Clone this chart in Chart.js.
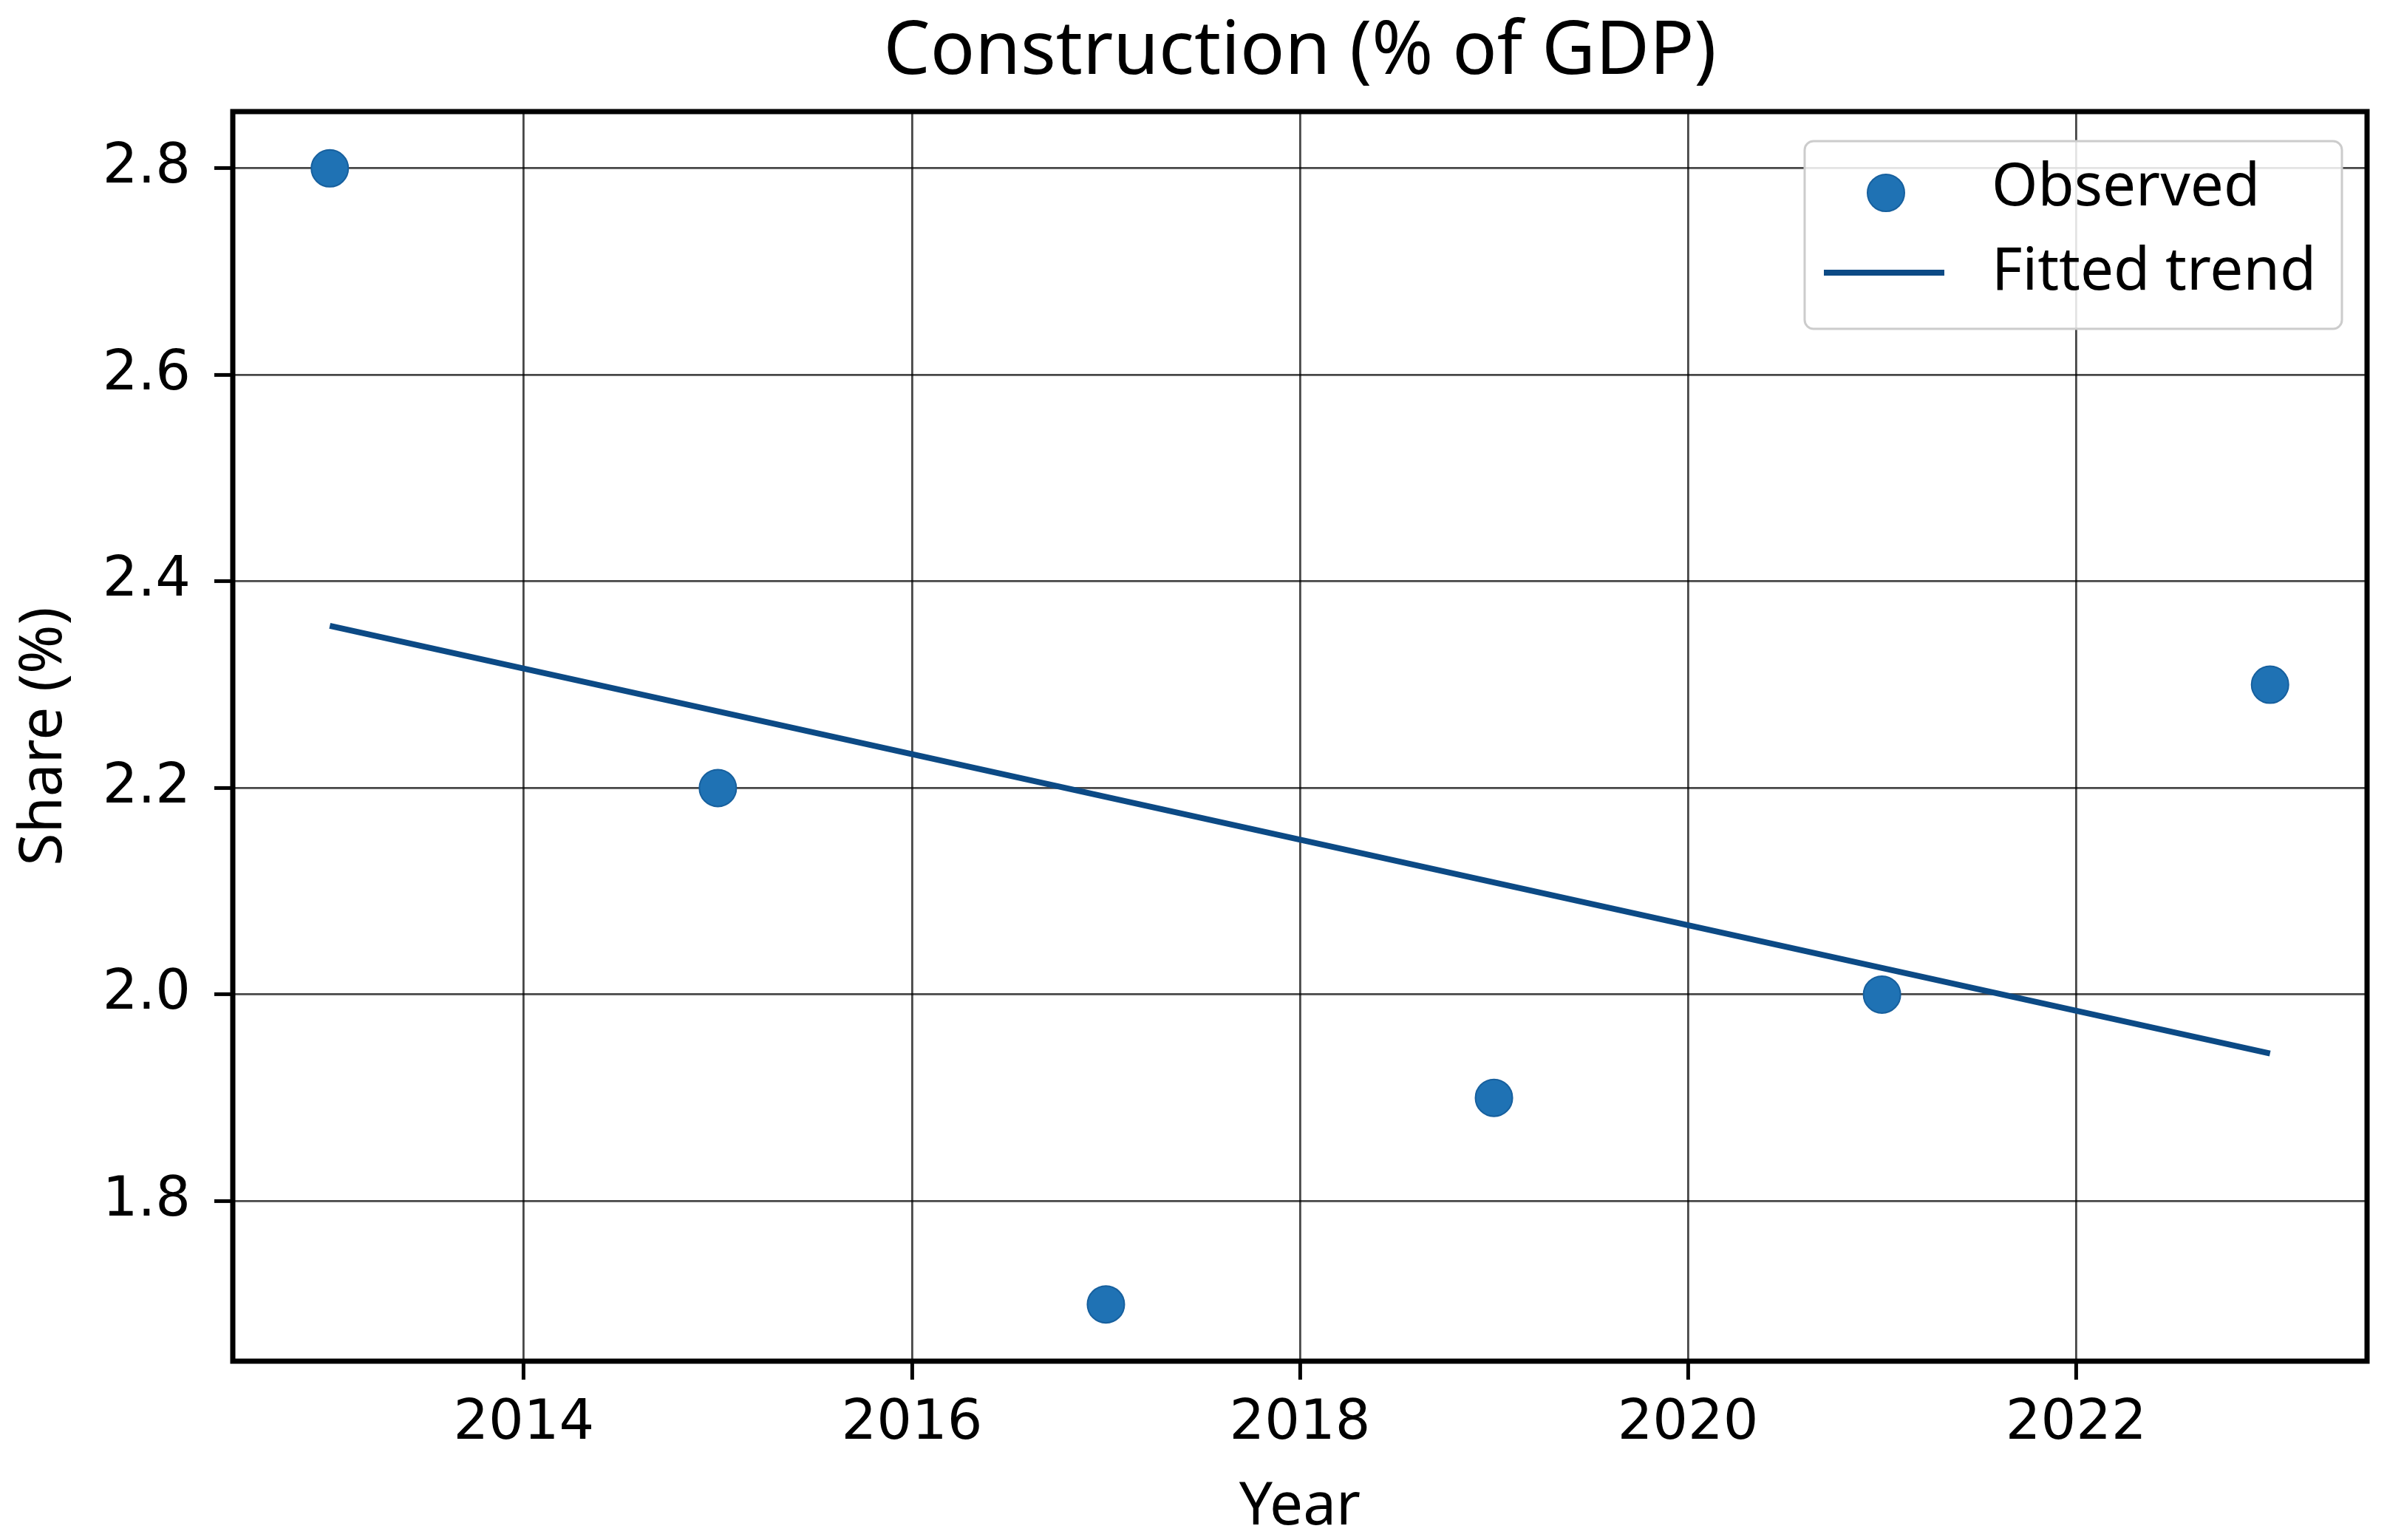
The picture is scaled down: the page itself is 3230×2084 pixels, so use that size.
<!DOCTYPE html>
<html>
<head>
<meta charset="utf-8">
<script src="https://cdn.jsdelivr.net/npm/chart.js@4.4.1/dist/chart.umd.min.js"></script>
<style>
  html, body { margin: 0; padding: 0; background: #fff; }
  canvas { display: block; }
</style>
</head>
<body>
<canvas id="myChart" width="3230" height="2084"></canvas>
<script>
// data
const years = [2013, 2015, 2017, 2019, 2021, 2023];
const observed = [2.8, 2.2, 1.7, 1.9, 2.0, 2.3];
const trendYears = [2013, 2023];
const trendValues = [2.357, 1.943];
const xTicks = [2014, 2016, 2018, 2020, 2022];
const yTicks = [1.8, 2.0, 2.2, 2.4, 2.6, 2.8];

const chartTitle = 'Construction (% of GDP)';
const pointColor = '#1f72b4';
const lineColor = '#0c4a85';

// title centred on the plot, frame round the plot, legend box top right
const framePlugin = {
    id: 'frame',
    afterDatasetsDraw(chart) {
        const { ctx, chartArea } = chart;
        ctx.save();
        ctx.strokeStyle = '#000';
        ctx.lineWidth = 7;
        ctx.strokeRect(chartArea.left, chartArea.top,
            chartArea.right - chartArea.left, chartArea.bottom - chartArea.top);
        ctx.restore();
    },
    afterDraw(chart) {
        const { ctx, chartArea } = chart;

        ctx.save();
        ctx.fillStyle = '#000';
        ctx.font = '100px "Noto Sans"';
        ctx.textAlign = 'center';
        ctx.textBaseline = 'middle';
        ctx.fillText(chartTitle, (chartArea.left + chartArea.right) / 2, 72);
        ctx.restore();

        const right = chartArea.right - 34;
        const top = chartArea.top + 40;
        const w = 727, h = 254;
        const left = right - w;
        ctx.save();
        ctx.fillStyle = 'rgba(255,255,255,0.85)';
        ctx.strokeStyle = '#cccccc';
        ctx.lineWidth = 3;
        ctx.beginPath();
        ctx.roundRect(left, top, w, h, 12);
        ctx.fill();
        ctx.stroke();

        const ds = chart.data.datasets;
        // marker row
        ctx.beginPath();
        ctx.arc(left + 110, top + 70, 25, 0, Math.PI * 2);
        ctx.fillStyle = ds[0].backgroundColor;
        ctx.fill();
        ctx.lineWidth = 2;
        ctx.strokeStyle = ds[0].borderColor;
        ctx.stroke();
        // line row
        ctx.beginPath();
        ctx.moveTo(left + 26, top + 178);
        ctx.lineTo(left + 189, top + 178);
        ctx.lineWidth = 8;
        ctx.strokeStyle = ds[1].borderColor;
        ctx.stroke();

        ctx.fillStyle = '#000';
        ctx.font = '80px "Noto Sans"';
        ctx.textBaseline = 'middle';
        ctx.textAlign = 'left';
        ctx.fillText(ds[0].label, left + 253, top + 64);
        ctx.fillText(ds[1].label, left + 253, top + 178);
        ctx.restore();
    }
};

const ctx = document.getElementById('myChart').getContext('2d');
const chart = new Chart(ctx, {
    type: 'scatter',
    data: {
        datasets: [
            {
                label: 'Observed',
                data: years.map((x, i) => ({ x: x, y: observed[i] })),
                backgroundColor: pointColor,
                borderColor: '#17609e',
                borderWidth: 2,
                pointRadius: 25,
                order: 1
            },
            {
                label: 'Fitted trend',
                data: trendYears.map((x, i) => ({ x: x, y: trendValues[i] })),
                showLine: true,
                borderColor: lineColor,
                backgroundColor: lineColor,
                borderWidth: 8,
                pointRadius: 0,
                order: 2
            }
        ]
    },
    options: {
        responsive: false,
        animation: false,
        devicePixelRatio: 1,
        layout: { padding: { left: 0, right: 18, top: 151, bottom: 0 } },
        plugins: {
            legend: { display: false },
            tooltip: { enabled: false },
            title: { display: false }
        },
        scales: {
            x: {
                type: 'linear',
                min: 2012.5,
                max: 2023.5,
                afterBuildTicks: axis => { axis.ticks = xTicks.map(v => ({ value: v })); },
                afterFit: axis => { axis.height = 242; },
                ticks: {
                    color: '#000',
                    font: { family: '"DejaVu Sans"', size: 75 },
                    padding: 16,
                    maxRotation: 0,
                    callback: v => String(v)
                },
                grid: {
                    color: 'rgba(0,0,0,0.72)',
                    lineWidth: 2.8,
                    tickColor: '#000',
                    tickLength: 25,
                    tickWidth: 5
                },
                border: { display: false },
                title: {
                    display: true,
                    text: 'Year',
                    color: '#000',
                    font: { family: '"Noto Sans"', size: 80, lineHeight: 1.1 },
                    padding: { top: 0, bottom: 0 }
                }
            },
            y: {
                type: 'linear',
                min: 1.645,
                max: 2.855,
                afterBuildTicks: axis => { axis.ticks = yTicks.map(v => ({ value: v })); },
                afterFit: axis => { axis.width = 315; },
                ticks: {
                    color: '#000',
                    font: { family: '"DejaVu Sans"', size: 75 },
                    padding: 32,
                    callback: v => v.toFixed(1)
                },
                grid: {
                    color: 'rgba(0,0,0,0.72)',
                    lineWidth: 2.8,
                    tickColor: '#000',
                    tickLength: 25,
                    tickWidth: 5
                },
                border: { display: false },
                title: {
                    display: true,
                    text: 'Share (%)',
                    color: '#000',
                    font: { family: '"Noto Sans"', size: 80, lineHeight: 1.2 },
                    padding: { top: 12, bottom: 0 }
                }
            }
        }
    },
    plugins: [framePlugin]
});
</script>
</body>
</html>
